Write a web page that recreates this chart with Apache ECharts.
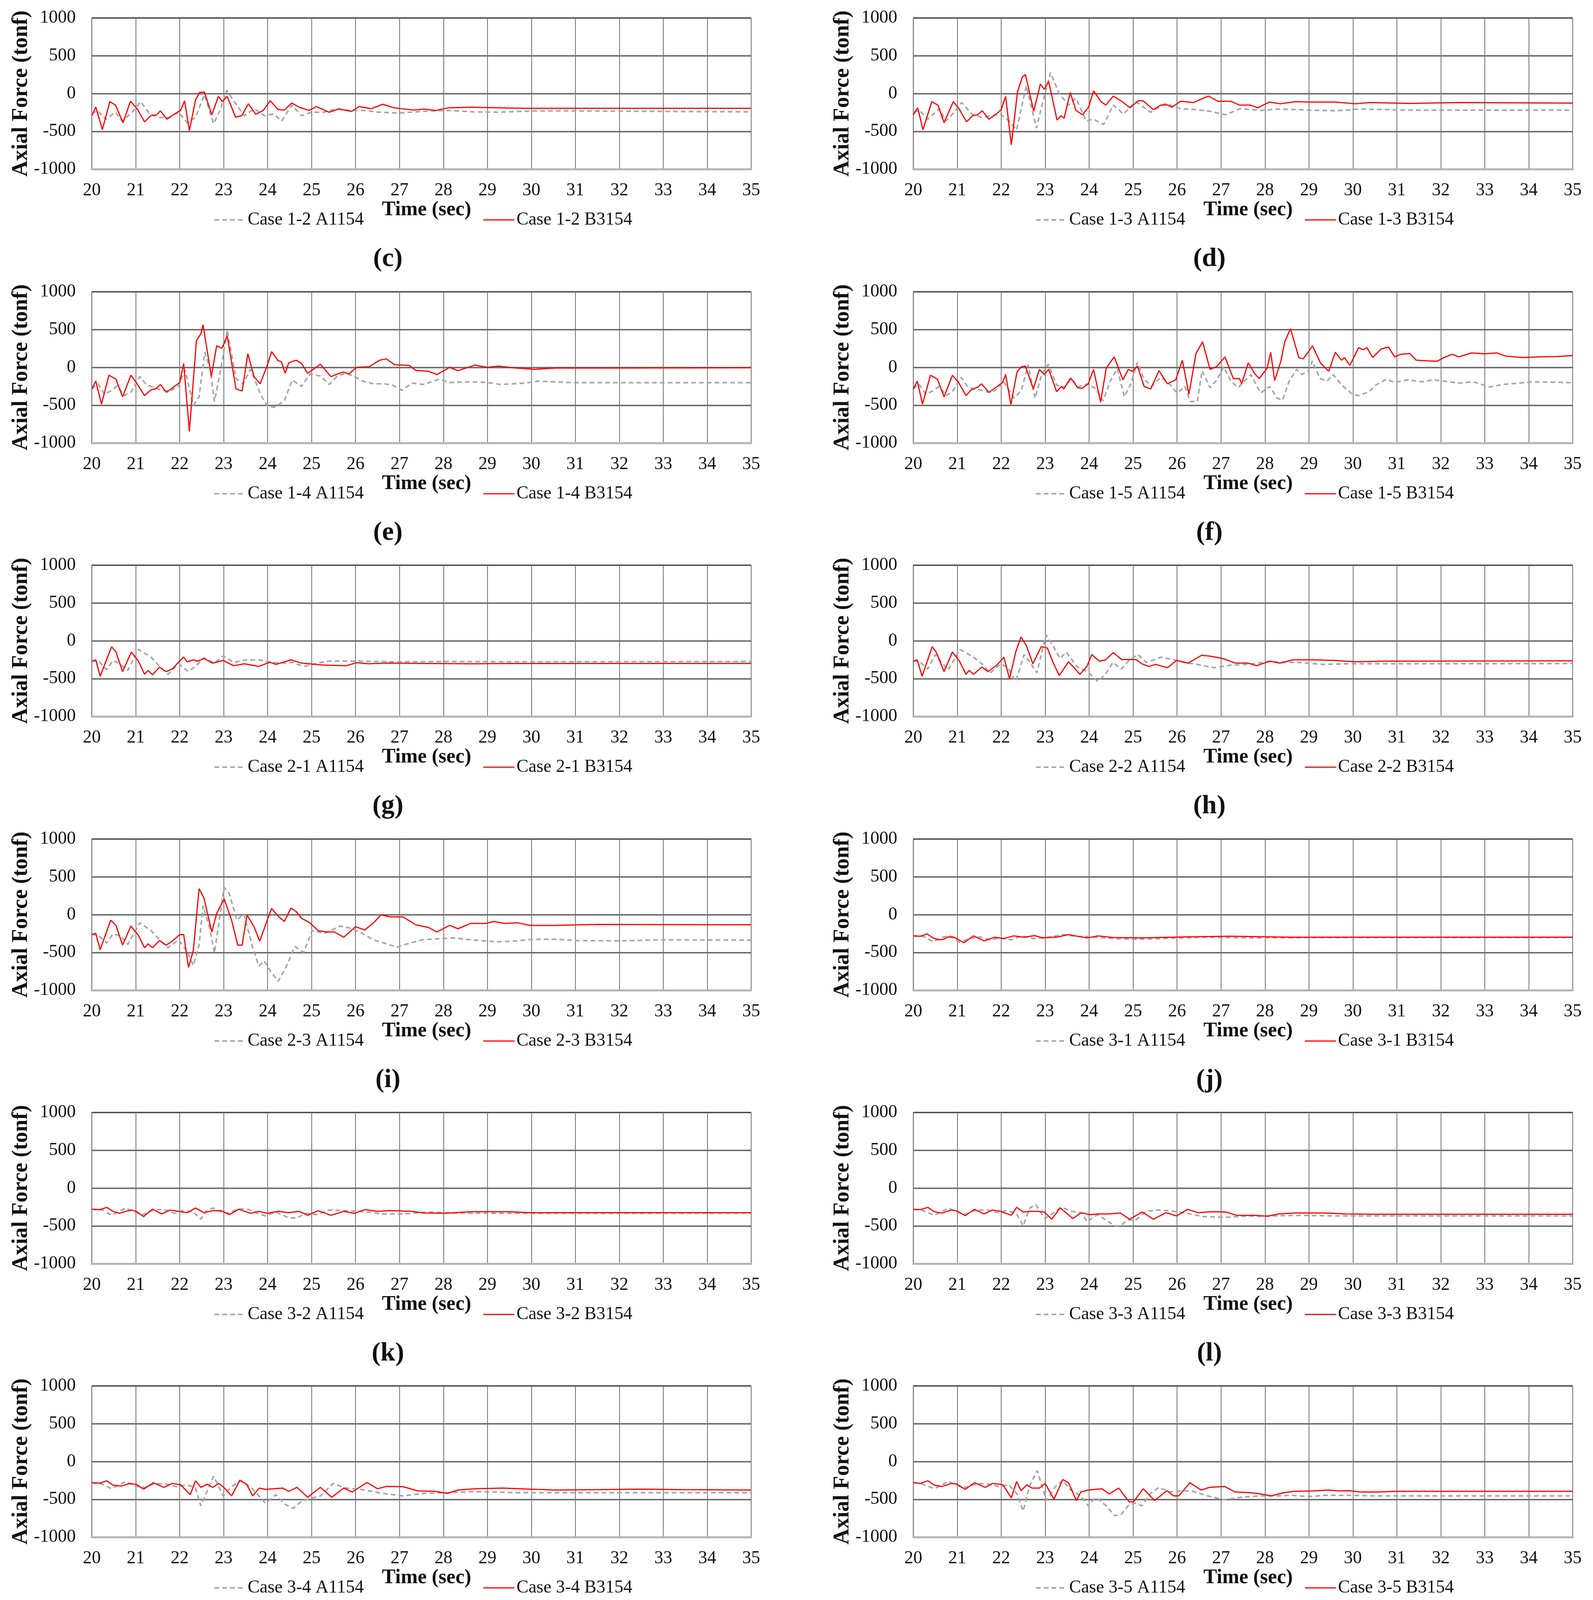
<!DOCTYPE html>
<html>
<head>
<meta charset="utf-8">
<title>Axial force time histories</title>
<script src="https://cdn.jsdelivr.net/npm/echarts@6/dist/echarts.min.js"></script>
<style>
  html, body { margin: 0; padding: 0; background: #fff; }
  #main { width: 4078px; height: 4231px; }
</style>
</head>
<body>
<div id="main"></div>
<script>
// [time (sec), axial force (tonf)]
var c_A1154 = [[20,-270],[20.12,-223],[20.32,-340],[20.54,-247],[20.69,-363],[20.92,-247],[21.11,-107],[21.32,-270],[21.52,-316],[21.77,-316],[21.97,-247],[22.17,-386],[22.36,-316],[22.56,-14],[22.77,-398],[22.9,-247],[23.07,44],[23.24,-107],[23.47,-293],[23.7,-200],[23.92,-293],[24.13,-270],[24.32,-363],[24.55,-153],[24.77,-293],[25.0,-247],[25.28,-247],[25.57,-200],[25.85,-223],[26.19,-223],[26.53,-247],[26.98,-258],[27.55,-235],[28.12,-223],[28.68,-242],[29.25,-247],[30.16,-228],[35,-242]];
var c_B3154 = [[20,-293],[20.09,-177],[20.24,-479],[20.41,-107],[20.54,-153],[20.71,-386],[20.88,-102],[21.03,-200],[21.2,-374],[21.34,-293],[21.48,-281],[21.56,-228],[21.71,-340],[21.88,-270],[22.02,-223],[22.11,-95],[22.22,-491],[22.36,-84],[22.45,14],[22.56,21],[22.73,-281],[22.88,-37],[22.97,-107],[23.08,-37],[23.27,-312],[23.41,-293],[23.56,-135],[23.73,-274],[23.9,-223],[24.06,-95],[24.24,-212],[24.38,-219],[24.55,-126],[24.72,-181],[24.94,-223],[25.11,-172],[25.4,-247],[25.62,-205],[25.91,-235],[26.08,-172],[26.36,-200],[26.62,-142],[26.87,-188],[27.32,-219],[27.55,-205],[27.83,-223],[28.12,-188],[28.68,-181],[29.25,-188],[29.82,-195],[30.39,-195],[35,-195]];

var d_A1154 = [[20,-247],[20.14,-223],[20.33,-340],[20.59,-200],[20.74,-363],[20.93,-247],[21.1,-119],[21.33,-270],[21.55,-316],[21.78,-293],[21.98,-270],[22.18,-363],[22.35,-479],[22.57,102],[22.8,-456],[22.93,-153],[23.12,277],[23.31,9],[23.53,-153],[23.7,-60],[23.93,-363],[24.1,-340],[24.33,-409],[24.55,-153],[24.78,-270],[25.06,-107],[25.4,-247],[25.74,-130],[26.08,-200],[26.42,-212],[26.76,-235],[27.1,-281],[27.44,-200],[27.9,-223],[28.35,-205],[29.03,-219],[29.6,-228],[30.16,-205],[31.29,-219],[35,-219]];
var d_B3154 = [[20,-281],[20.1,-188],[20.22,-479],[20.42,-107],[20.56,-153],[20.7,-386],[20.91,-107],[21.04,-200],[21.21,-374],[21.35,-293],[21.46,-281],[21.57,-228],[21.72,-340],[21.89,-270],[22.0,-212],[22.1,-37],[22.23,-677],[22.37,21],[22.48,219],[22.55,253],[22.74,-235],[22.89,126],[22.98,56],[23.08,160],[23.27,-351],[23.36,-293],[23.43,-328],[23.57,14],[23.7,-223],[23.85,-281],[23.99,-177],[24.1,37],[24.27,-107],[24.38,-153],[24.55,-33],[24.75,-107],[24.93,-188],[25.12,-95],[25.23,-95],[25.46,-212],[25.63,-153],[25.77,-149],[25.88,-181],[26.08,-102],[26.37,-119],[26.71,-33],[26.93,-102],[27.22,-102],[27.42,-153],[27.67,-153],[27.84,-188],[28.1,-112],[28.35,-135],[28.69,-107],[29.03,-112],[29.6,-112],[30.05,-135],[30.39,-119],[31.29,-130],[32.43,-119],[35,-126]];

var e_A1154 = [[20,-286],[20.14,-217],[20.29,-356],[20.43,-312],[20.58,-243],[20.74,-373],[20.9,-321],[21.09,-122],[21.25,-234],[21.45,-269],[21.59,-304],[21.78,-312],[21.97,-252],[22.12,-35],[22.31,-503],[22.44,-390],[22.57,200],[22.7,-43],[22.79,-451],[22.96,61],[23.08,495],[23.28,-148],[23.44,-217],[23.61,-26],[23.85,-373],[24.0,-512],[24.15,-530],[24.38,-443],[24.56,-165],[24.77,-252],[24.96,-87],[25.2,-113],[25.4,-226],[25.59,-113],[25.78,-78],[25.97,-122],[26.17,-182],[26.41,-217],[26.65,-217],[26.84,-234],[27.06,-304],[27.28,-208],[27.56,-226],[27.9,-156],[28.14,-200],[28.62,-191],[29.0,-200],[29.3,-226],[29.87,-208],[30.15,-182],[31.03,-203],[35,-203]];
var e_B3154 = [[20,-286],[20.09,-182],[20.22,-486],[20.39,-104],[20.55,-156],[20.7,-390],[20.89,-104],[21.01,-200],[21.2,-373],[21.35,-295],[21.45,-286],[21.56,-226],[21.7,-330],[21.88,-252],[22.0,-200],[22.09,52],[22.22,-847],[22.38,356],[22.48,443],[22.53,564],[22.72,-122],[22.84,286],[22.96,252],[23.08,417],[23.28,-286],[23.42,-312],[23.55,182],[23.69,-122],[23.83,-217],[23.98,9],[24.09,208],[24.24,87],[24.31,78],[24.4,-78],[24.48,61],[24.65,95],[24.77,52],[24.91,-78],[25.06,-17],[25.2,43],[25.44,-122],[25.59,-87],[25.73,-61],[25.85,-87],[26.02,0],[26.31,9],[26.55,95],[26.7,113],[26.89,35],[27.22,26],[27.37,-40],[27.66,-52],[27.85,-95],[28.14,0],[28.33,-43],[28.72,30],[29.0,0],[29.25,17],[29.58,-5],[30.07,-26],[30.55,-9],[31.5,-9],[35,-5]];

var f_A1154 = [[20,-286],[20.12,-217],[20.29,-356],[20.46,-304],[20.59,-252],[20.75,-373],[20.89,-321],[21.09,-130],[21.23,-252],[21.39,-286],[21.57,-304],[21.76,-338],[21.91,-286],[22.05,-182],[22.29,-408],[22.46,-304],[22.61,35],[22.77,-408],[22.92,-95],[23.07,43],[23.26,-234],[23.45,-260],[23.6,-148],[23.74,-260],[23.97,-217],[24.16,-286],[24.32,-443],[24.48,-182],[24.64,-17],[24.8,-390],[24.95,-217],[25.1,69],[25.24,-148],[25.42,-252],[25.63,-130],[25.82,-217],[26.0,-338],[26.18,-252],[26.3,-451],[26.46,-451],[26.57,-43],[26.75,-269],[26.91,-165],[27.06,9],[27.22,-182],[27.39,-269],[27.53,-182],[27.68,-95],[27.9,-338],[28.11,-252],[28.28,-408],[28.4,-434],[28.55,-182],[28.72,-26],[28.84,-95],[28.99,-43],[29.08,87],[29.25,-148],[29.41,-182],[29.55,-95],[29.75,-234],[29.99,-356],[30.13,-373],[30.37,-321],[30.52,-234],[30.76,-156],[30.95,-200],[31.24,-165],[31.58,-191],[31.82,-165],[32.06,-182],[32.44,-208],[32.73,-191],[33.12,-260],[33.4,-226],[33.79,-208],[34.08,-191],[34.56,-196],[35,-203]];
var f_B3154 = [[20,-286],[20.09,-182],[20.21,-486],[20.39,-104],[20.55,-156],[20.7,-390],[20.89,-104],[21.03,-200],[21.2,-373],[21.32,-295],[21.47,-260],[21.55,-217],[21.72,-330],[21.91,-252],[22.03,-200],[22.1,-95],[22.22,-491],[22.36,-61],[22.46,9],[22.55,17],[22.73,-286],[22.87,-26],[22.98,-95],[23.08,-26],[23.26,-321],[23.37,-252],[23.42,-286],[23.58,-139],[23.74,-269],[23.84,-278],[23.98,-217],[24.1,-26],[24.26,-460],[24.39,-9],[24.57,139],[24.77,-165],[24.89,-26],[24.98,-52],[25.1,17],[25.25,-252],[25.4,-286],[25.59,-43],[25.78,-217],[25.97,-165],[26.12,95],[26.27,-356],[26.43,182],[26.58,339],[26.75,-26],[26.9,9],[27.09,139],[27.28,-148],[27.42,-148],[27.47,-217],[27.62,61],[27.76,-78],[27.87,-148],[28.05,-9],[28.13,200],[28.22,-174],[28.36,78],[28.45,339],[28.58,512],[28.77,130],[28.87,113],[28.99,208],[29.08,286],[29.26,61],[29.45,-52],[29.6,200],[29.74,95],[29.81,130],[29.93,26],[30.13,260],[30.23,234],[30.32,260],[30.45,130],[30.64,243],[30.81,269],[30.95,139],[31.1,174],[31.3,182],[31.44,95],[31.68,87],[31.92,82],[32.07,130],[32.26,174],[32.41,139],[32.7,191],[32.99,179],[33.28,191],[33.48,148],[33.86,130],[34.25,139],[34.63,144],[35,156]];

var g_A1154 = [[20,-269],[20.14,-260],[20.34,-382],[20.48,-260],[20.63,-304],[20.82,-391],[21.06,-113],[21.35,-217],[21.54,-339],[21.73,-443],[21.98,-304],[22.19,-405],[22.36,-339],[22.55,-226],[22.79,-295],[22.99,-200],[23.23,-286],[23.52,-252],[23.8,-252],[24.09,-286],[24.38,-295],[24.57,-286],[24.82,-339],[25.35,-269],[26.12,-269],[26.89,-278],[28.14,-273],[29.58,-278],[35,-273]];
var g_B3154 = [[20,-269],[20.09,-252],[20.19,-469],[20.45,-78],[20.55,-148],[20.7,-408],[20.9,-148],[21.06,-269],[21.2,-443],[21.28,-391],[21.38,-451],[21.54,-347],[21.69,-408],[21.83,-373],[21.98,-278],[22.09,-214],[22.17,-278],[22.31,-252],[22.41,-269],[22.55,-234],[22.75,-295],[22.99,-260],[23.23,-330],[23.47,-304],[23.8,-339],[24.05,-283],[24.19,-312],[24.53,-252],[24.77,-295],[25.25,-321],[25.78,-330],[26.02,-290],[26.31,-304],[26.7,-295],[27.66,-300],[28.62,-304],[29.58,-300],[35,-299]];

var h_A1154 = [[20,-269],[20.13,-269],[20.33,-373],[20.5,-182],[20.62,-269],[20.79,-391],[21.06,-113],[21.37,-217],[21.56,-304],[21.75,-425],[21.99,-304],[22.15,-356],[22.33,-538],[22.52,-182],[22.66,-286],[22.81,-425],[23.02,78],[23.19,-78],[23.34,-234],[23.48,-148],[23.72,-339],[23.96,-408],[24.2,-538],[24.37,-443],[24.54,-286],[24.73,-373],[24.92,-252],[25.11,-182],[25.3,-286],[25.64,-217],[25.93,-252],[26.17,-286],[26.46,-312],[26.84,-356],[27.22,-321],[27.6,-312],[28.08,-278],[28.75,-286],[29.32,-312],[29.9,-304],[31.45,-304],[35,-300]];
var h_B3154 = [[20,-269],[20.09,-252],[20.2,-469],[20.43,-78],[20.52,-148],[20.7,-408],[20.89,-148],[21.05,-269],[21.2,-443],[21.27,-391],[21.37,-443],[21.56,-347],[21.7,-408],[21.9,-321],[22.06,-217],[22.19,-503],[22.33,-148],[22.45,52],[22.57,-61],[22.72,-304],[22.91,-78],[23.05,-95],[23.18,-286],[23.32,-460],[23.53,-278],[23.63,-339],[23.79,-443],[23.95,-339],[24.06,-182],[24.23,-269],[24.37,-252],[24.55,-156],[24.74,-248],[25.07,-248],[25.2,-304],[25.36,-339],[25.51,-312],[25.78,-356],[25.99,-260],[26.25,-295],[26.56,-191],[26.75,-203],[27.04,-234],[27.33,-295],[27.62,-295],[27.81,-330],[28.1,-269],[28.34,-295],[28.63,-252],[29.15,-252],[29.58,-260],[30.07,-278],[30.74,-269],[31.51,-269],[35,-265]];

var i_A1154 = [[20,-264],[20.14,-268],[20.34,-377],[20.48,-255],[20.65,-281],[20.82,-394],[21.09,-108],[21.35,-212],[21.54,-333],[21.73,-438],[21.98,-333],[22.17,-490],[22.31,-672],[22.44,-403],[22.53,118],[22.68,-177],[22.79,-507],[23.01,361],[23.13,275],[23.3,-73],[23.46,14],[23.66,-438],[23.8,-681],[23.92,-612],[24.07,-751],[24.24,-881],[24.43,-681],[24.62,-421],[24.82,-499],[25.01,-212],[25.3,-247],[25.65,-151],[25.87,-177],[26.12,-238],[26.41,-333],[26.7,-386],[26.94,-429],[27.18,-386],[27.51,-333],[27.95,-316],[28.24,-308],[28.62,-333],[29.2,-360],[29.58,-351],[30.07,-325],[30.55,-325],[31.03,-342],[31.99,-347],[32.95,-333],[35,-337]];
var i_B3154 = [[20,-264],[20.09,-247],[20.19,-464],[20.43,-73],[20.55,-142],[20.7,-403],[20.89,-151],[21.06,-273],[21.2,-438],[21.28,-386],[21.38,-438],[21.54,-342],[21.69,-403],[21.83,-351],[22.0,-264],[22.09,-264],[22.2,-698],[22.31,-473],[22.44,344],[22.55,222],[22.73,-229],[22.84,14],[23.01,209],[23.18,-73],[23.32,-403],[23.42,-403],[23.53,-3],[23.69,-160],[23.82,-351],[23.98,-90],[24.09,83],[24.24,-21],[24.38,-90],[24.53,87],[24.65,40],[24.77,-47],[24.96,-108],[25.15,-212],[25.33,-229],[25.52,-229],[25.73,-299],[26.0,-160],[26.21,-203],[26.41,-108],[26.58,-3],[26.79,-30],[27.08,-30],[27.37,-134],[27.66,-169],[27.85,-229],[28.14,-142],[28.33,-186],[28.62,-116],[28.96,-116],[29.15,-90],[29.39,-116],[29.68,-108],[29.97,-142],[30.55,-142],[31.51,-129],[35,-134]];

var j_A1154 = [[20,-281],[20.24,-290],[20.45,-360],[20.65,-299],[20.84,-281],[21.06,-368],[21.27,-316],[21.52,-295],[21.76,-333],[21.96,-308],[22.23,-333],[22.47,-281],[22.72,-316],[23.1,-299],[23.39,-264],[23.68,-285],[24.06,-295],[24.54,-316],[25.12,-325],[25.89,-312],[26.66,-299],[27.62,-308],[29.58,-302],[35,-302]];
var j_B3154 = [[20,-281],[20.16,-285],[20.31,-255],[20.45,-308],[20.58,-333],[20.69,-325],[20.79,-295],[20.93,-299],[21.15,-372],[21.37,-281],[21.61,-347],[21.85,-299],[22.06,-316],[22.28,-281],[22.52,-299],[22.76,-278],[22.95,-308],[23.29,-295],[23.53,-264],[23.77,-290],[23.96,-308],[24.2,-281],[24.54,-302],[25.2,-308],[26.17,-295],[27.23,-285],[28.58,-299],[30.5,-299],[35,-299]];

var k_A1154 = [[20,-281],[20.24,-290],[20.45,-360],[20.77,-264],[20.96,-316],[21.16,-351],[21.4,-290],[21.64,-281],[21.88,-333],[22.07,-299],[22.31,-316],[22.48,-412],[22.6,-308],[22.75,-264],[22.94,-316],[23.13,-333],[23.32,-273],[23.56,-281],[23.76,-333],[23.95,-368],[24.19,-316],[24.48,-394],[24.67,-394],[24.87,-333],[25.11,-351],[25.4,-290],[25.73,-299],[26.12,-308],[26.6,-342],[27.08,-342],[27.66,-316],[28.24,-330],[29.1,-333],[30.07,-333],[35,-330]];
var k_B3154 = [[20,-281],[20.19,-285],[20.34,-255],[20.48,-308],[20.63,-333],[20.77,-308],[20.9,-290],[21.01,-308],[21.18,-377],[21.38,-278],[21.59,-342],[21.78,-290],[21.97,-308],[22.17,-325],[22.36,-264],[22.55,-325],[22.75,-299],[22.94,-299],[23.13,-351],[23.34,-281],[23.61,-333],[23.8,-308],[23.99,-333],[24.24,-308],[24.48,-325],[24.72,-308],[24.91,-360],[25.15,-299],[25.44,-360],[25.73,-308],[25.97,-333],[26.21,-285],[26.5,-308],[26.79,-299],[27.27,-308],[27.56,-330],[28.04,-333],[28.62,-313],[29.49,-313],[29.97,-325],[35,-325]];

var l_A1154 = [[20,-281],[20.21,-295],[20.48,-360],[20.8,-264],[21.01,-325],[21.2,-342],[21.45,-290],[21.69,-290],[21.93,-325],[22.12,-299],[22.34,-333],[22.5,-499],[22.65,-264],[22.79,-221],[22.99,-403],[23.18,-333],[23.37,-255],[23.61,-308],[23.85,-333],[23.95,-447],[24.19,-351],[24.38,-421],[24.58,-499],[24.72,-499],[24.87,-421],[25.06,-421],[25.3,-308],[25.54,-290],[25.83,-299],[26.21,-333],[26.6,-377],[27.08,-386],[27.56,-372],[28.14,-368],[28.81,-360],[29.58,-368],[35,-368]];
var l_B3154 = [[20,-281],[20.16,-285],[20.33,-255],[20.48,-313],[20.65,-330],[20.87,-290],[20.99,-302],[21.18,-365],[21.39,-281],[21.61,-342],[21.8,-290],[21.99,-308],[22.23,-360],[22.35,-255],[22.5,-316],[22.67,-308],[22.81,-308],[22.98,-316],[23.15,-412],[23.34,-260],[23.63,-403],[23.82,-325],[24.01,-351],[24.21,-342],[24.44,-342],[24.71,-330],[24.92,-412],[25.21,-316],[25.46,-412],[25.75,-325],[25.99,-368],[26.24,-281],[26.48,-325],[26.77,-313],[27.11,-316],[27.35,-360],[27.74,-360],[28.07,-372],[28.3,-342],[28.69,-330],[29.36,-330],[29.84,-342],[30.5,-346],[35,-346]];

var m_A1154 = [[20,-281],[20.24,-299],[20.45,-360],[20.77,-264],[20.96,-325],[21.2,-342],[21.45,-290],[21.69,-299],[21.93,-333],[22.17,-308],[22.36,-351],[22.48,-586],[22.63,-386],[22.77,-195],[22.99,-455],[23.18,-333],[23.37,-255],[23.61,-333],[23.95,-551],[24.19,-438],[24.38,-560],[24.58,-620],[24.77,-525],[24.96,-490],[25.2,-455],[25.49,-290],[25.78,-351],[26.12,-368],[26.6,-421],[27.08,-455],[27.56,-421],[28.14,-412],[28.62,-400],[29.2,-403],[29.58,-412],[35,-412]];
var m_B3154 = [[20,-281],[20.19,-285],[20.34,-255],[20.48,-313],[20.67,-325],[20.87,-290],[21.01,-302],[21.18,-365],[21.4,-281],[21.64,-342],[21.83,-290],[22.02,-308],[22.24,-438],[22.36,-255],[22.48,-342],[22.63,-299],[22.75,-342],[22.89,-290],[23.02,-351],[23.18,-455],[23.37,-247],[23.52,-299],[23.66,-455],[23.81,-351],[23.95,-368],[24.14,-360],[24.34,-351],[24.48,-394],[24.67,-342],[24.91,-473],[25.2,-342],[25.46,-473],[25.73,-351],[25.92,-403],[26.26,-278],[26.5,-360],[26.7,-330],[27.08,-333],[27.42,-389],[27.8,-394],[28.09,-421],[28.33,-377],[28.72,-360],[29.35,-351],[29.97,-365],[30.55,-377],[31.51,-372],[32.47,-365],[33.43,-372],[35,-377]];

var n_A1154 = [[20,-278],[20.21,-299],[20.48,-360],[20.8,-264],[21.01,-325],[21.22,-342],[21.47,-290],[21.7,-299],[21.96,-333],[22.17,-308],[22.36,-429],[22.5,-655],[22.65,-316],[22.82,-122],[23.03,-516],[23.23,-333],[23.4,-247],[23.56,-368],[23.81,-455],[23.98,-586],[24.15,-473],[24.39,-586],[24.58,-716],[24.72,-707],[24.91,-568],[25.06,-551],[25.2,-586],[25.4,-421],[25.59,-342],[25.83,-403],[26.12,-386],[26.36,-394],[26.7,-455],[27.08,-507],[27.46,-473],[27.85,-455],[28.24,-455],[28.62,-447],[29.0,-464],[29.37,-447],[29.87,-447],[30.55,-455],[35,-455]];
var n_B3154 = [[20,-278],[20.16,-290],[20.33,-255],[20.48,-313],[20.65,-330],[20.87,-290],[20.99,-299],[21.18,-368],[21.39,-281],[21.64,-342],[21.8,-290],[22.04,-308],[22.23,-481],[22.35,-264],[22.45,-386],[22.58,-308],[22.7,-351],[22.87,-351],[23.0,-290],[23.2,-499],[23.4,-238],[23.53,-281],[23.71,-516],[23.81,-403],[23.98,-377],[24.29,-360],[24.46,-429],[24.67,-351],[24.91,-533],[25.01,-533],[25.23,-360],[25.49,-516],[25.77,-386],[25.92,-455],[26.04,-455],[26.29,-281],[26.55,-377],[26.74,-342],[27.08,-330],[27.32,-403],[27.66,-412],[27.9,-429],[28.14,-455],[28.43,-412],[28.67,-394],[29.1,-389],[29.44,-377],[29.68,-389],[29.92,-386],[30.16,-403],[30.55,-403],[31.03,-394],[35,-394]];

var caseIds = ['1-2', '1-3', '1-4', '1-5', '2-1', '2-2', '2-3', '3-1', '3-2', '3-3', '3-4', '3-5'];
var panelLabels = ['(c)', '(d)', '(e)', '(f)', '(g)', '(h)', '(i)', '(j)', '(k)', '(l)', '(m)', '(n)'];
var seriesA = [c_A1154, d_A1154, e_A1154, f_A1154, g_A1154, h_A1154, i_A1154, j_A1154, k_A1154, l_A1154, m_A1154, n_A1154];
var seriesB = [c_B3154, d_B3154, e_B3154, f_B3154, g_B3154, h_B3154, i_B3154, j_B3154, k_B3154, l_B3154, m_B3154, n_B3154];

var FONT = 'Liberation Serif';
var colLeft = [235, 2338];
var plotW = 1688;
var rowTop = [46, 747, 1447, 2148, 2848, 3548];
var plotH = 387;

// legend swatches: four dashes for A1154, a solid bar for B3154
var dashIcon = 'path://M0,0h12v4h-12z M20,0h12v4h-12z M40,0h12v4h-12z M60,0h12v4h-12z M80,0h0v4h0z';
var solidIcon = 'path://M0,0h80v3h-80z';

var grids = [], xAxes = [], yAxes = [], series = [], legends = [], texts = [];

caseIds.forEach(function (id, i) {
    var left = colLeft[i % 2];
    var top = rowTop[Math.floor(i / 2)];
    var nameA = 'Case ' + id + ' A1154';
    var nameB = 'Case ' + id + ' B3154';

    grids.push({left: left, top: top, width: plotW, height: plotH});

    xAxes.push({
        gridIndex: i,
        type: 'value',
        min: 20,
        max: 35,
        interval: 1,
        axisLine: {onZero: false, lineStyle: {color: '#b3b3b3', width: 5}},
        axisTick: {show: false},
        axisLabel: {margin: 32, fontFamily: FONT, fontSize: 46, lineHeight: 46, color: '#111'},
        splitLine: {show: true, lineStyle: {color: '#707070', width: 2}},
        name: 'Time (sec)',
        nameLocation: 'middle',
        nameGap: 58,
        nameTextStyle: {fontFamily: FONT, fontWeight: 'bold', fontSize: 52, lineHeight: 52, color: '#111', padding: [0, 0, 0, 26]}
    });

    yAxes.push({
        gridIndex: i,
        type: 'value',
        min: -1000,
        max: 1000,
        interval: 500,
        axisLine: {show: true, lineStyle: {color: '#5f5f5f', width: 2}},
        axisTick: {show: false},
        axisLabel: {
            margin: 41, fontFamily: FONT, fontSize: 46, lineHeight: 46, color: '#111',
            formatter: function (v) { return String(v); }
        },
        splitLine: {show: true, lineStyle: {color: ['#b3b3b3', '#636363', '#636363', '#636363', '#474747'], width: 3.5}},
        name: 'Axial Force (tonf)',
        nameLocation: 'middle',
        nameGap: 123,
        nameTextStyle: {fontFamily: FONT, fontWeight: 'bold', fontSize: 56, lineHeight: 56, color: '#111'}
    });

    series.push({
        type: 'line',
        name: nameA,
        xAxisIndex: i,
        yAxisIndex: i,
        data: seriesA[i],
        symbol: 'none',
        z: 2,
        itemStyle: {color: '#a6a6a6'},
        lineStyle: {color: '#a6a6a6', width: 4, type: [12, 8]}
    });
    series.push({
        type: 'line',
        name: nameB,
        xAxisIndex: i,
        yAxisIndex: i,
        data: seriesB[i],
        symbol: 'none',
        z: 3,
        itemStyle: {color: '#ff0000'},
        lineStyle: {color: '#ff0000', width: 3}
    });

    legends.push({
        data: [{name: nameA, icon: dashIcon}, {name: nameB, icon: solidIcon}],
        left: left + 309,
        top: top + 487,
        itemWidth: 80,
        itemHeight: 4,
        itemGap: 306,
        selectedMode: false,
        itemStyle: {borderWidth: 0},
        lineStyle: {width: 0},
        textStyle: {fontFamily: FONT, fontSize: 46, lineHeight: 50, color: '#111'}
    });

    texts.push({
        type: 'text',
        x: left + plotW / 2 - 86,
        y: top + 617,
        style: {
            text: panelLabels[i],
            font: 'bold 68px "Liberation Serif"',
            fill: '#111',
            textAlign: 'center',
            textVerticalAlign: 'middle',
            align: 'center',
            verticalAlign: 'middle'
        }
    });
});

var myChart = echarts.init(document.getElementById('main'));
myChart.setOption({
    animation: false,
    backgroundColor: '#ffffff',
    textStyle: {fontFamily: FONT},
    grid: grids,
    xAxis: xAxes,
    yAxis: yAxes,
    legend: legends,
    graphic: texts,
    series: series
});
</script>
</body>
</html>
